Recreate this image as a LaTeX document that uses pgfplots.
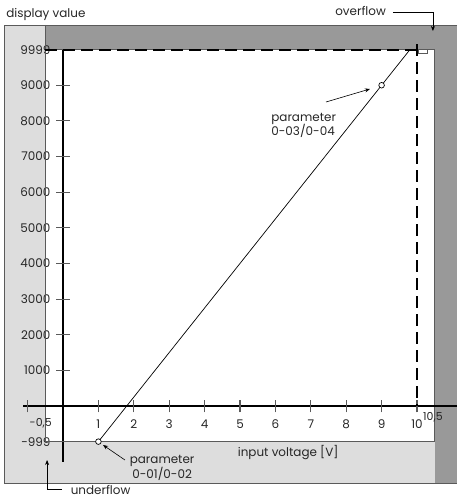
\documentclass[border=0pt]{standalone}
\usepackage{fontspec}
\setmainfont{Poppins}
\usepackage{pgfplots}
\pgfplotsset{compat=1.18}
\usetikzlibrary{arrows.meta}
\definecolor{lgray}{HTML}{DDDDDD}
\definecolor{dgray}{HTML}{999999}
\definecolor{edge}{HTML}{5A5A5A}

\begin{document}
\begin{tikzpicture}
\begin{axis}[
  set layers,
  scale only axis,
  width=457bp, height=498bp,
  xmin=-1.78, xmax=11.13,
  ymin=-2581, ymax=11392,
  scaled ticks=false,
  axis lines*=middle,
  axis line style={draw=none},
  clip=false,
  unbounded coords=jump,
  xtick={1,2,3,4,5,6,7,8,9,10},
  ytick={-999,1000,2000,3000,4000,5000,6000,7000,8000,9000,9999},
  yticklabels={-999,1000,2000,3000,4000,5000,6000,7000,8000,9000,9999},
  xticklabels={1,2,3,4,5,6,7,8,9,10},
  major tick length=0pt,
  every tick/.style={draw=none},
  ticklabel style={font=\fontsize{12}{14}\selectfont, text=black!85},
  yticklabel style={anchor=east, xshift=-9bp},
  xticklabel style={anchor=north, yshift=-10bp},
]
% shaded ranges
\addplot[fill=lgray, draw=none, on layer=axis background] coordinates {(-1.667,-2161) (-0.5,-2161) (-0.5,10691) (-1.667,10691)} -- cycle;
\addplot[fill=lgray, draw=none, on layer=axis background] coordinates {(-0.5,-2161) (10.5,-2161) (10.5,-999) (-0.5,-999)} -- cycle;
\addplot[fill=dgray, draw=none, on layer=axis background] coordinates {(-0.5,9999) (11.13,9999) (11.13,10691) (-0.5,10691)} -- cycle;
\addplot[fill=dgray, draw=none, on layer=axis background] coordinates {(10.5,-2161) (11.13,-2161) (11.13,9999) (10.5,9999)} -- cycle;
% frame lines
\addplot[edge, line width=0.8bp] coordinates {(11.13,10691) (-1.667,10691) (-1.667,-2161) (11.13,-2161)};
\addplot[edge, line width=0.8bp] coordinates {(-0.5,10691) (-0.5,-999) (10.5,-999) (10.5,9999) (-0.5,9999)};
% axes
\addplot[black, line width=1.6bp] coordinates {(-1.13,0) (11.13,0)};
\addplot[black, line width=1.6bp] coordinates {(0,9999) (0,-1571)};
% tick marks (6.5 px each side)
\addplot[edge, line width=1.1bp] coordinates {
  (-1,-182) (-1,182) (-1,nan)
  (1,-182) (1,182) (1,nan)
  (2,-182) (2,182) (2,nan)
  (3,-182) (3,182) (3,nan)
  (4,-182) (4,182) (4,nan)
  (5,-182) (5,182) (5,nan)
  (6,-182) (6,182) (6,nan)
  (7,-182) (7,182) (7,nan)
  (8,-182) (8,182) (8,nan)
  (9,-182) (9,182) (9,nan)
  (10,-182) (10,182)};
\addplot[edge, line width=1.1bp] coordinates {
  (-0.184,-999) (0.184,-999) (nan,-999)
  (-0.184,1000) (0.184,1000) (nan,1000)
  (-0.184,2000) (0.184,2000) (nan,2000)
  (-0.184,3000) (0.184,3000) (nan,3000)
  (-0.184,4000) (0.184,4000) (nan,4000)
  (-0.184,5000) (0.184,5000) (nan,5000)
  (-0.184,6000) (0.184,6000) (nan,6000)
  (-0.184,7000) (0.184,7000) (nan,7000)
  (-0.184,8000) (0.184,8000) (nan,8000)
  (-0.184,9000) (0.184,9000) (nan,9000)
  (-0.184,9999) (0.184,9999)};
% limits
\addplot[black, line width=1.8bp, dash pattern=on 12bp off 6bp] coordinates {(-0.5,9999) (10,9999)};
\addplot[black, line width=1.8bp, dash pattern=on 12bp off 6bp] coordinates {(10,10150) (10,0)};
% characteristic
\addplot[black, line width=0.7bp] coordinates {(1,-999) (9.8,9999)};
\addplot[only marks, mark=*, mark size=2.8bp, mark options={fill=white, draw=black, line width=0.7bp}] coordinates {(1,-999) (9,9000)};
\addplot[draw=edge, fill=white, line width=0.6bp] coordinates {(10.03,9999) (10.28,9999) (10.28,9890) (10.03,9890)} -- cycle;

% annotations
\begin{scope}[font=\fontsize{12}{14.5}\selectfont, text=black!85]
\node[anchor=west] at (axis cs:-1.70,10971) {display value};
\node[anchor=east] at (axis cs:9.22,11084) {overflow};
\draw[black, line width=0.6bp, -{Stealth[length=5bp,width=4bp]}] (axis cs:9.32,11056) -- (axis cs:10.45,11056) -- (axis cs:10.45,10523);
\node[anchor=north west, align=left, inner sep=0pt] at (axis cs:5.88,8230) {parameter\\0-03/0-04};
\draw[black, line width=0.6bp, -{Stealth[length=5bp,width=4bp]}] (axis cs:7.43,8530) -- (axis cs:8.67,8895);
\node[align=center, inner sep=0pt] at (axis cs:2.80,-1740) {parameter\\0-01/0-02};
\draw[black, line width=0.6bp, -{Stealth[length=5bp,width=4bp]}] (axis cs:1.75,-1515) -- (axis cs:1.13,-1094);
\node at (axis cs:6.36,-1319) {input voltage [V]};
\node[anchor=west] at (axis cs:0.12,-2357) {underflow};
\draw[black, line width=0.6bp, -{Stealth[length=5bp,width=4bp]}] (axis cs:-0.03,-2329) -- (axis cs:-0.45,-2329) -- (axis cs:-0.45,-1515);
\node[font=\fontsize{11}{13}\selectfont] at (axis cs:-0.63,-477) {-0,5};
\node[font=\fontsize{11}{13}\selectfont] at (axis cs:10.45,-309) {10,5};
\end{scope}
\end{axis}
\end{tikzpicture}
\end{document}
